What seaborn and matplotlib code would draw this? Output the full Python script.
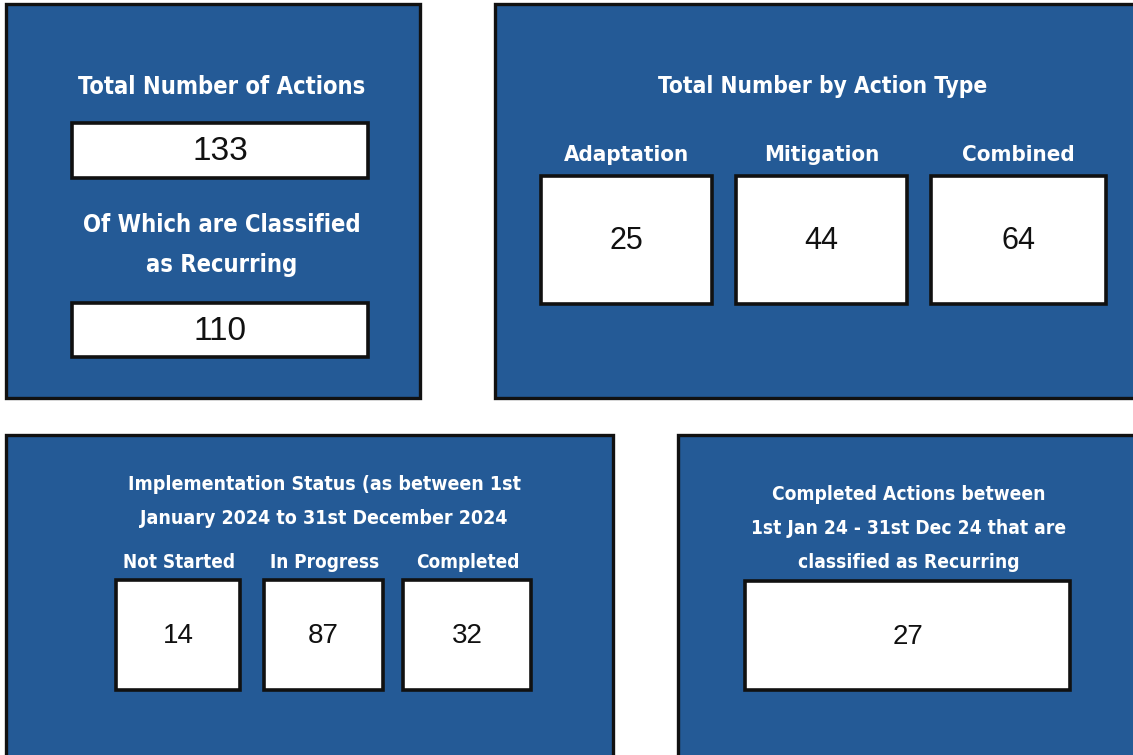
import matplotlib
matplotlib.use('Agg')
import matplotlib.pyplot as plt
import seaborn as sns
from matplotlib.patches import Rectangle

# 데이터
total_actions = 133
recurring_actions = 110
type_labels = ['Adaptation', 'Mitigation', 'Combined']
type_values = [25, 44, 64]
status_labels = ['Not Started', 'In Progress', 'Completed']
status_values = [14, 87, 32]
completed_recurring = 27

sns.set_theme(style='white')
plt.rcParams['font.family'] = ['DejaVu Sans']

BLUE = '#245a96'
EDGE = '#111111'
HEAD = ['DejaVu Sans']
NUM = ['Liberation Sans', 'DejaVu Sans']

fig = plt.figure(figsize=(11.33, 7.55), dpi=100)
ax = fig.add_axes([0, 0, 1, 1])
ax.set_xlim(0, 1133)
ax.set_ylim(755, 0)
ax.axis('off')


def panel(x0, y0, x1, y1):
    ax.add_patch(Rectangle((x0, y0), x1 - x0, y1 - y0, facecolor=BLUE,
                           edgecolor=EDGE, linewidth=2.4, clip_on=False))


def head(x, y, s, size=17):
    ax.text(x, y, s, color='white', fontsize=size, fontweight='bold',
            fontstretch='condensed', family=HEAD, ha='center', va='center')


def value_box(x0, y0, x1, y1, v, size=24):
    ax.add_patch(Rectangle((x0, y0), x1 - x0, y1 - y0, facecolor='white',
                           edgecolor=EDGE, linewidth=2.6))
    ax.text((x0 + x1) / 2, (y0 + y1) / 2 + 1, str(v), color='#111111',
            fontsize=size, family=NUM, ha='center', va='center')


# 1. 전체 액션 수
panel(6, 4, 420, 398)
head(222, 87, 'Total Number of Actions')
value_box(72, 123, 368, 178, total_actions)
head(222, 225, 'Of Which are Classified')
head(222, 265, 'as Recurring')
value_box(72, 303, 368, 357, recurring_actions)

# 2. 유형별
panel(495, 4, 1140, 398)
head(823, 87, 'Total Number by Action Type', size=16.3)
type_boxes = [(541, 712), (736, 907), (931, 1106)]
for (bx0, bx1), lab, v in zip(type_boxes, type_labels, type_values):
    head((bx0 + bx1) / 2, 155, lab, size=16)
    value_box(bx0, 176, bx1, 304, v, size=22)

# 3. 진행 상태
panel(6, 435, 613, 760)
head(324, 485, 'Implementation Status (as between 1st', size=14)
head(324, 518, 'January 2024 to 31st December 2024', size=14)
status_boxes = [(116, 240), (264, 383), (403, 531)]
for (bx0, bx1), lab, v in zip(status_boxes, status_labels, status_values):
    head((bx0 + bx1) / 2 + 1, 563, lab, size=13.6)
    value_box(bx0, 580, bx1, 690, v, size=20)

# 4. 완료된 반복 액션
panel(678, 435, 1140, 760)
head(909, 495, 'Completed Actions between', size=13.8)
head(909, 529, '1st Jan 24 - 31st Dec 24 that are', size=13.8)
head(909, 563, 'classified as Recurring', size=13.8)
value_box(745, 581, 1070, 690, completed_recurring, size=20)

fig.savefig('out.png', dpi=100, facecolor='white')
